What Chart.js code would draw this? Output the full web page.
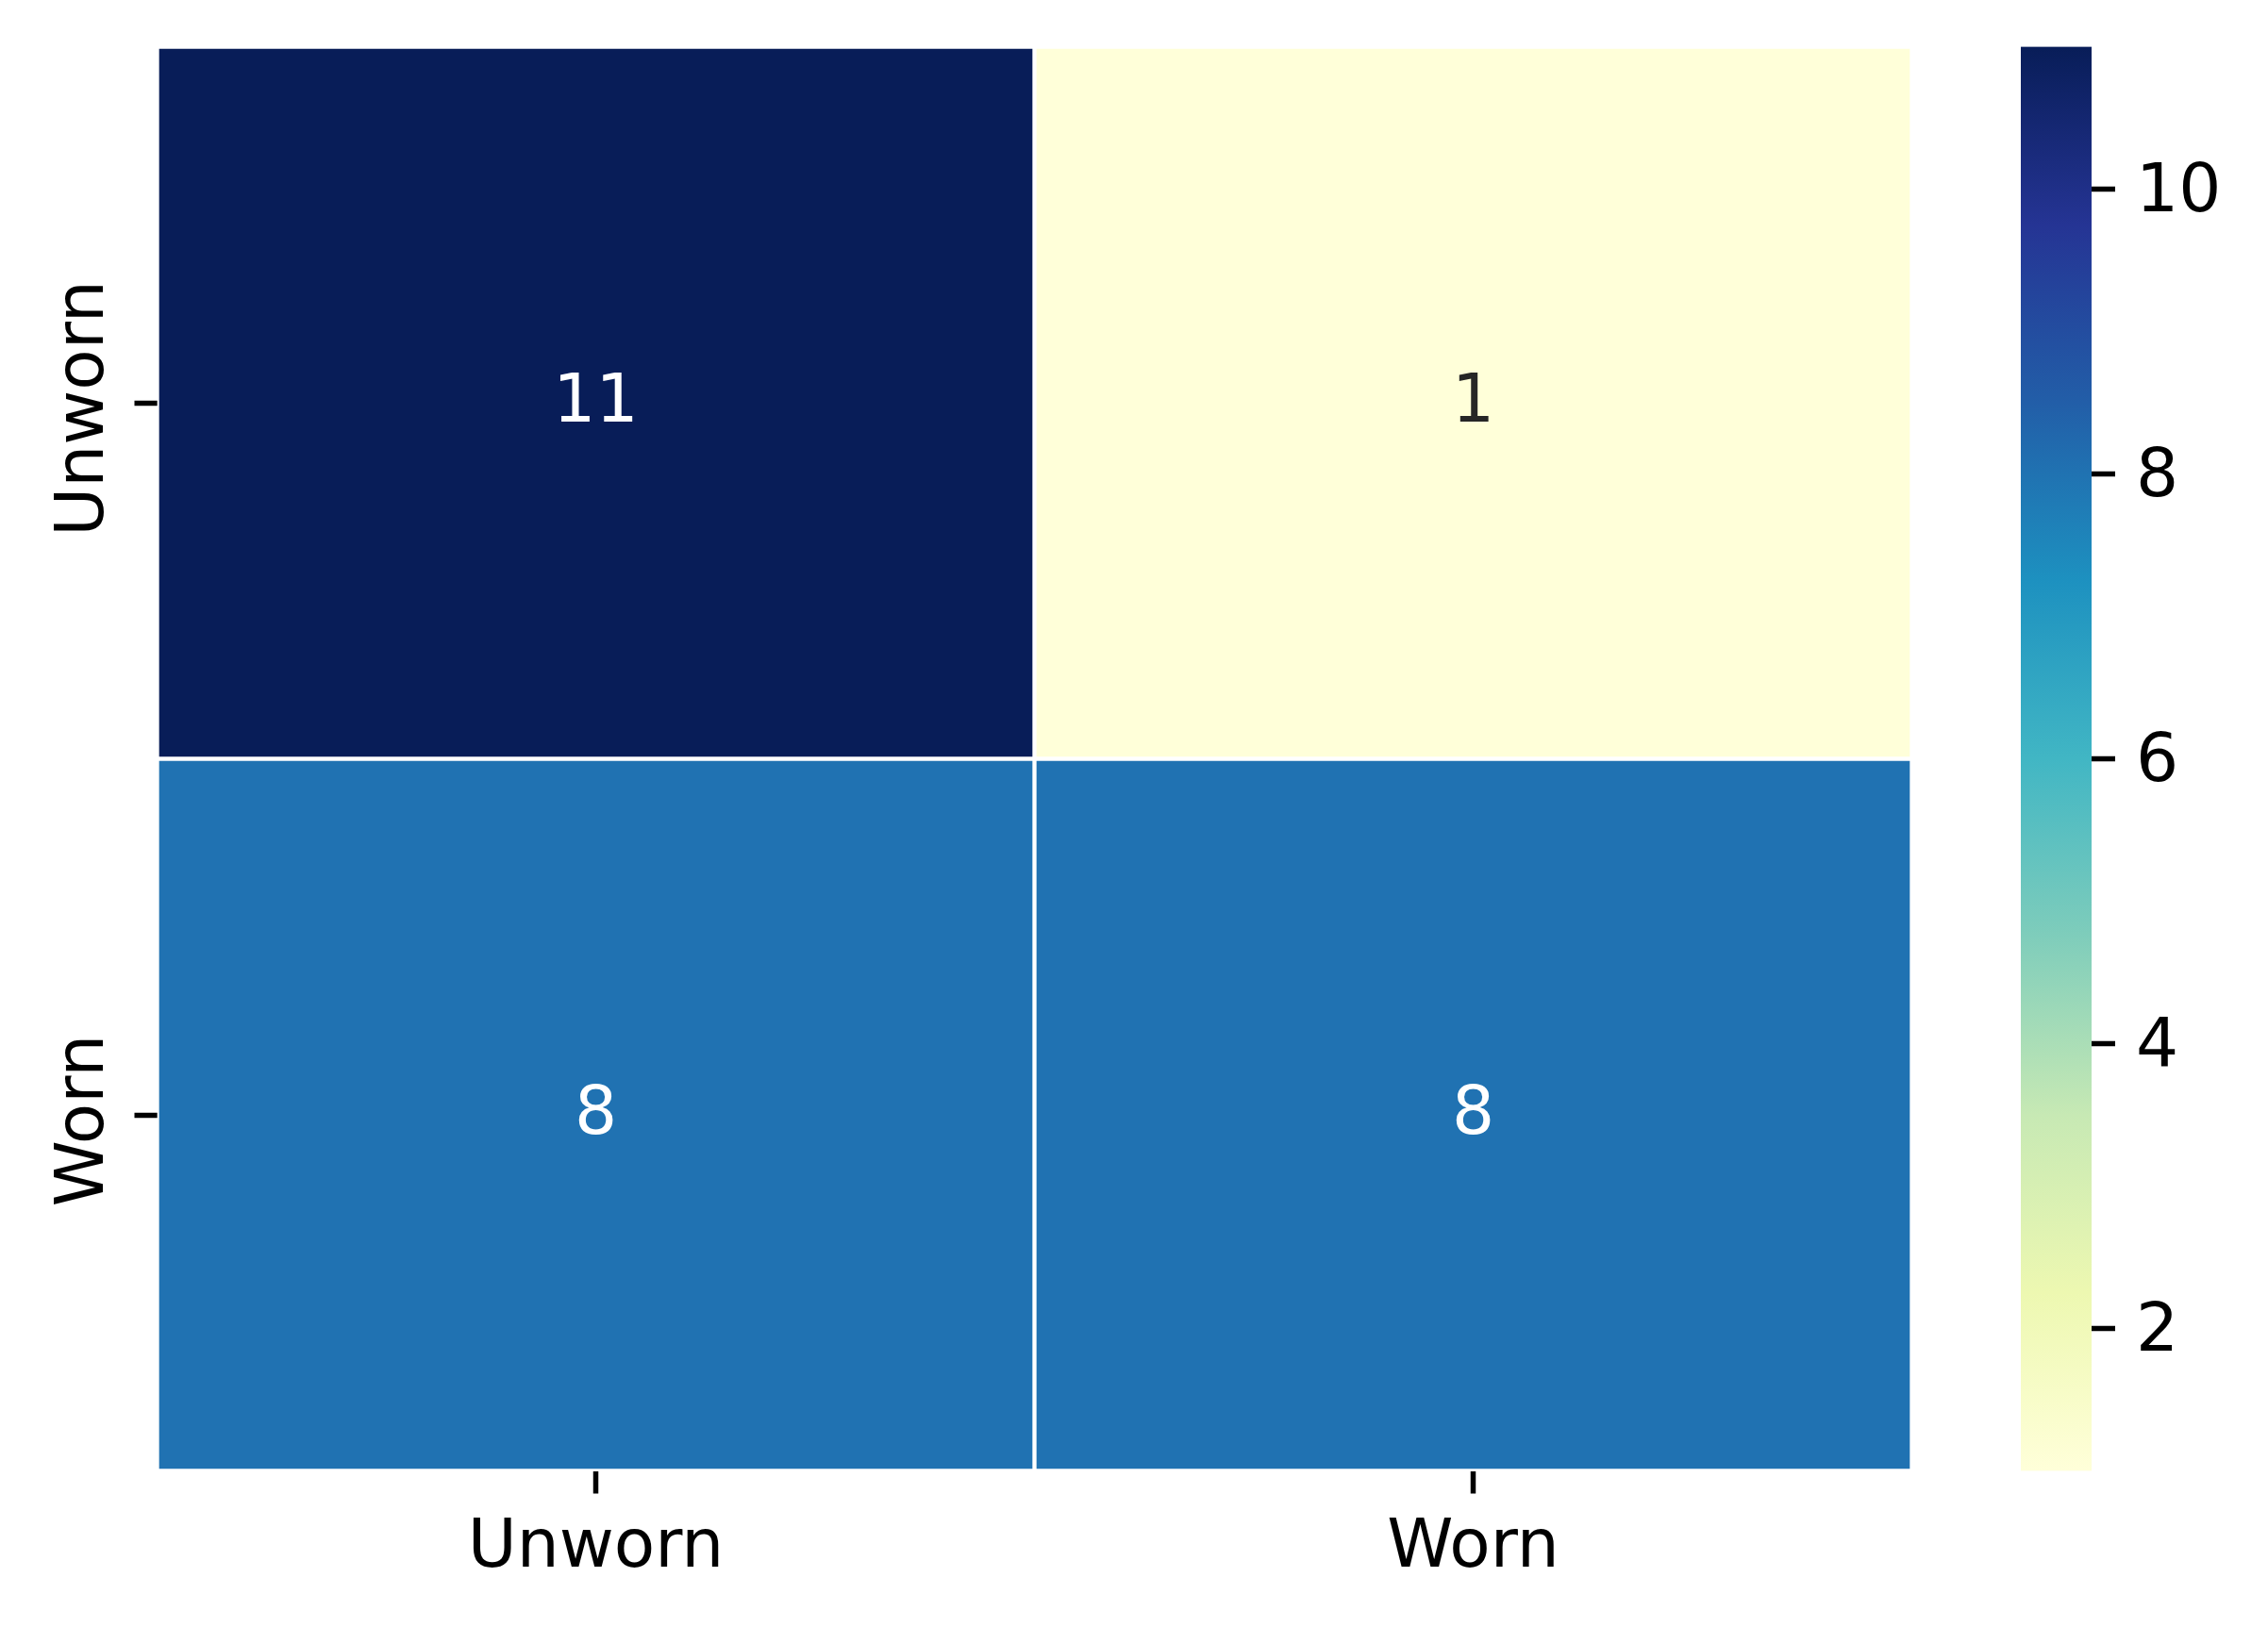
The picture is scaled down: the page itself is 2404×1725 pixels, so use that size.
<!DOCTYPE html>
<html>
<head>
<meta charset="utf-8">
<script src="https://cdn.jsdelivr.net/npm/chart.js@4/dist/chart.umd.min.js"></script>
<style>
html,body{margin:0;padding:0;background:#ffffff;}
#wrap{position:relative;width:2404px;height:1725px;overflow:hidden;}
#main{position:absolute;left:0;top:0;}
#cb{position:absolute;left:2100px;top:0;}
</style>
</head>
<body>
<div id="wrap">
<canvas id="main" width="2100" height="1725"></canvas>
<canvas id="cb" width="304" height="1725"></canvas>
</div>
<script>
// ---- data ----
const colLabels = ['Unworn', 'Worn'];
const rowLabels = ['Unworn', 'Worn'];
const rowUnworn = [11, 1];
const rowWorn = [8, 8];
const cbTicks = [2, 4, 6, 8, 10];
const vmin = 1;
const vmax = 11;

// ---- style ----
const FONT = 'DejaVu Sans';
const FS = 71;
const ylgnbu = ['#ffffd9','#edf8b1','#c7e9b4','#7fcdbb','#41b6c4','#1d91c0','#225ea8','#253494','#081d58'];

function hexToRgb(h){return [parseInt(h.slice(1,3),16),parseInt(h.slice(3,5),16),parseInt(h.slice(5,7),16)];}
function cmap(v){
  let t=(v-vmin)/(vmax-vmin); t=Math.max(0,Math.min(1,t));
  const p=t*(ylgnbu.length-1); const i=Math.min(Math.floor(p),ylgnbu.length-2); const f=p-i;
  const a=hexToRgb(ylgnbu[i]), b=hexToRgb(ylgnbu[i+1]);
  const c=a.map((x,k)=>Math.round(x+(b[k]-x)*f));
  return 'rgb('+c.join(',')+')';
}
function relLum(rgbStr){
  const c=rgbStr.match(/\d+/g).map(Number).map(x=>{x/=255;return x<=0.03928?x/12.92:Math.pow((x+0.055)/1.055,2.4);});
  return 0.2126*c[0]+0.7152*c[1]+0.0722*c[2];
}

const matrix = [rowUnworn, rowWorn];

const annotatePlugin = {
  id:'annot',
  afterDatasetsDraw(chart){
    const ctx=chart.ctx, xs=chart.scales.x, ys=chart.scales.y;
    ctx.save();
    ctx.font = FS+'px "'+FONT+'"';
    ctx.textAlign='center';
    ctx.textBaseline='alphabetic';
    matrix.forEach((row,r)=>{
      row.forEach((v,c)=>{
        const col=cmap(v);
        ctx.fillStyle = relLum(col)>0.408 ? '#262626' : '#ffffff';
        const x=xs.getPixelForValue(c);
        const y=ys.getPixelForValue(r+0.5);
        ctx.fillText(String(v), x, y+0.28*FS);
      });
    });
    ctx.restore();
  },
  afterDraw(chart){
    const ctx=chart.ctx, ys=chart.scales.y;
    ctx.save();
    ctx.font = FS+'px "'+FONT+'"';
    ctx.fillStyle='#000000';
    ctx.textAlign='center';
    ctx.textBaseline='alphabetic';
    rowLabels.forEach((lab,i)=>{
      const y=ys.getPixelForValue(i+0.5);
      ctx.save();
      ctx.translate(ys.left+109, y+6);
      ctx.rotate(-Math.PI/2);
      ctx.fillText(lab,0,0);
      ctx.restore();
    });
    ctx.restore();
  }
};

new Chart(document.getElementById('main'), {
  type:'bar',
  data:{
    labels: colLabels,
    datasets: matrix.map((row,r)=>({
      label: rowLabels[r],
      data: row.map(()=>[r, r+1]),
      backgroundColor: row.map(v=>cmap(v)),
      borderColor:'#ffffff',
      borderWidth:2.5,
      borderSkipped:false,
      barPercentage:1,
      categoryPercentage:1,
      grouped:false
    }))
  },
  options:{
    responsive:false,
    animation:false,
    devicePixelRatio:1,
    layout:{padding:{left:0,top:49.5,right:73.5,bottom:0}},
    plugins:{legend:{display:false},tooltip:{enabled:false}},
    scales:{
      x:{
        type:'category',
        offset:true,
        grid:{display:true,drawOnChartArea:false,drawTicks:true,tickLength:24,tickWidth:5.5,tickColor:'#000000',offset:false},
        border:{display:false},
        ticks:{font:{family:FONT,size:FS},color:'#000000',padding:16,maxRotation:0,minRotation:0},
        afterFit(s){s.height=1725-1559.5;s.paddingLeft=0;s.paddingRight=0;}
      },
      y:{
        type:'linear',
        min:0,max:2,reverse:true,
        afterBuildTicks(s){s.ticks=rowLabels.map((_,i)=>({value:i+0.5}));},
        grid:{display:true,drawOnChartArea:false,drawTicks:true,tickLength:24,tickWidth:5.5,tickColor:'#000000'},
        border:{display:false},
        ticks:{display:false},
        afterFit(s){s.width=166.5;s.paddingTop=0;s.paddingBottom=0;}
      }
    }
  },
  plugins:[annotatePlugin]
});

// ---- colorbar ----
new Chart(document.getElementById('cb'), {
  type:'bar',
  data:{
    labels:['cb'],
    datasets:[{
      data:[[vmin,vmax]],
      backgroundColor(ctx){
        const chart=ctx.chart; const area=chart.chartArea; if(!area) return ylgnbu[4];
        const ys=chart.scales.y;
        const g=chart.ctx.createLinearGradient(0,ys.getPixelForValue(vmin),0,ys.getPixelForValue(vmax));
        ylgnbu.forEach((c,i)=>g.addColorStop(i/(ylgnbu.length-1),c));
        return g;
      },
      borderWidth:0,
      barPercentage:1,
      categoryPercentage:1
    }]
  },
  options:{
    responsive:false,
    animation:false,
    devicePixelRatio:1,
    layout:{padding:{left:42,top:49.5,right:0,bottom:165.5}},
    plugins:{legend:{display:false},tooltip:{enabled:false}},
    scales:{
      x:{display:false},
      y:{
        type:'linear',position:'right',
        min:vmin,max:vmax,
        afterBuildTicks(s){s.ticks=cbTicks.map(v=>({value:v}));},
        grid:{display:true,drawOnChartArea:false,drawTicks:true,tickLength:25,tickWidth:5.5,tickColor:'#000000'},
        border:{display:false},
        ticks:{font:{family:FONT,size:FS},color:'#000000',padding:22,labelOffset:5},
        afterFit(s){s.width=187;s.paddingTop=0;s.paddingBottom=0;}
      }
    }
  }
});
</script>
</body>
</html>
